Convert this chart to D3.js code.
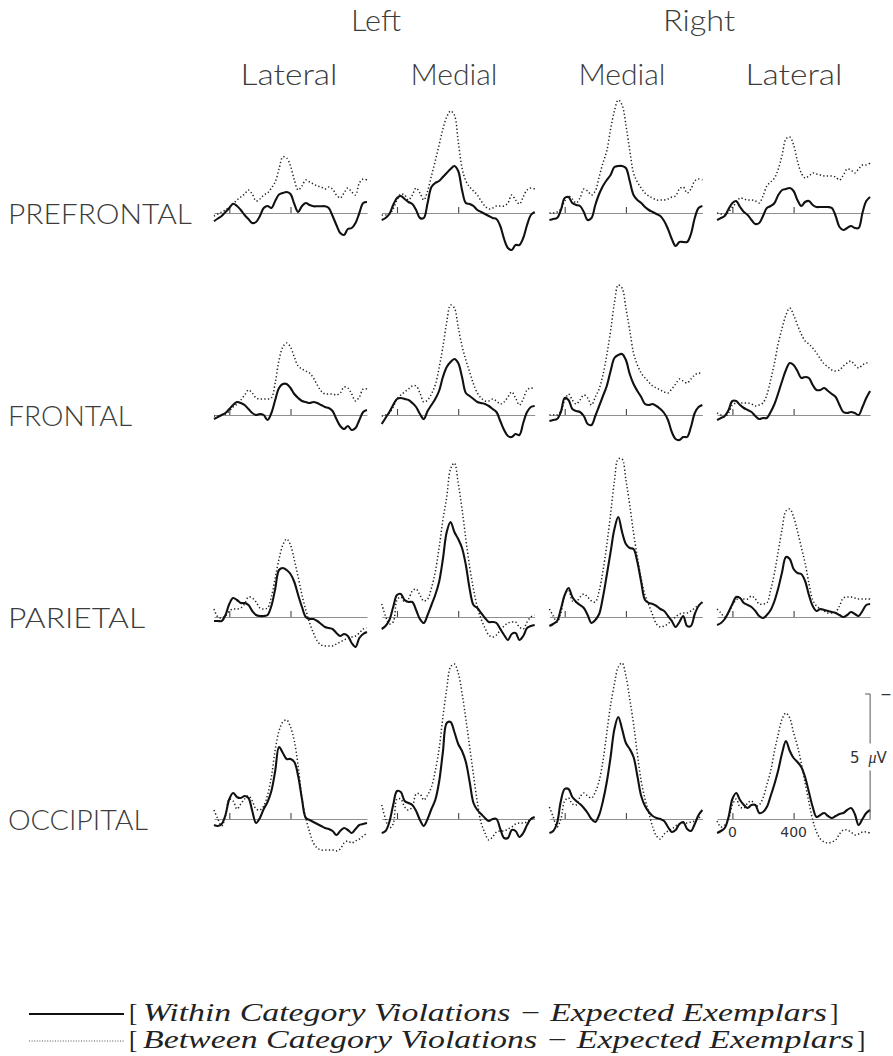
<!DOCTYPE html>
<html>
<head>
<meta charset="utf-8">
<script src="https://cdn.jsdelivr.net/npm/d3@7"></script>
<style>
  body { margin: 0; background: #fff; }
  svg { display: block; }
</style>
</head>
<body>
<svg id="chart" width="893" height="1056"></svg>
<script>
// Sample times (ms) of the difference waveforms
const times = [-100,-75,-50,-25,0,25,50,75,100,125,150,175,200,225,250,275,300,325,350,375,400,
  425,450,475,500,525,550,575,600,625,650,675,700,725,750,775,800,825,850,875,900];

const regions = ["PREFRONTAL", "FRONTAL", "PARIETAL", "OCCIPITAL"];
const hemispheres = ["Left", "Right"];
const sites = ["Lateral", "Medial", "Medial", "Lateral"];
const timeTicks = [0, 400];
const timeTickLabels = ["0", "400"];
const scaleBarMicroVolts = 5;
const legendLabels = ["Within Category Violations \u2212 Expected Exemplars",
                      "Between Category Violations \u2212 Expected Exemplars"];

// Amplitudes in µV (negative plotted upward); each array lists the four
// columns: left lateral, left medial, right medial, right lateral.
const prefrontalWithin = [
  [0.33,0.22,0.12,-0.04,-0.2,-0.37,-0.28,-0.12,0.08,0.24,0.4,0.36,0.12,-0.2,-0.28,-0.2,-0.48,-0.74,-0.8,-0.84,-0.76,-0.36,-0.04,-0.28,-0.4,-0.32,-0.27,-0.27,-0.27,-0.27,-0.2,0.12,0.48,0.8,0.88,0.64,0.6,0.4,0,-0.4,-0.44],
  [0.28,0.2,0.04,-0.32,-0.6,-0.68,-0.56,-0.44,-0.36,-0.12,0.2,0.2,-0.4,-1.04,-1.2,-1.28,-1.44,-1.6,-1.76,-1.88,-1.68,-0.92,-0.4,-0.36,-0.28,-0.12,-0.04,0.04,0.12,0.2,0.24,0.52,1.04,1.4,1.48,1.28,1.28,1,0.48,0.08,-0.04],
  [0.28,0.24,0.2,-0.12,-0.6,-0.64,-0.4,-0.32,-0.28,-0.04,0.28,0.2,-0.32,-0.76,-1.08,-1.32,-1.52,-1.84,-1.88,-1.88,-1.8,-1.28,-0.72,-0.52,-0.4,-0.24,-0.12,-0.04,0.04,0.12,0.32,0.64,1.04,1.32,1.16,1.16,1.16,0.84,0.2,-0.2,-0.28],
  [0.28,0.2,0.12,-0.16,-0.4,-0.48,-0.24,-0.04,0.08,0.28,0.44,0.4,0.12,-0.2,-0.28,-0.4,-0.72,-0.92,-0.96,-1,-0.88,-0.52,-0.28,-0.44,-0.48,-0.32,-0.24,-0.24,-0.24,-0.24,-0.2,0.12,0.56,0.68,0.6,0.52,0.6,0.6,0,-0.48,-0.64]
];
const prefrontalBetween = [
  [0.12,0.04,-0.04,-0.12,-0.24,-0.36,-0.52,-0.64,-0.76,-0.92,-0.76,-0.48,-0.56,-0.72,-0.8,-1,-1.24,-1.76,-2.24,-2.2,-1.88,-1.32,-0.92,-1.08,-1.32,-1.24,-1.16,-1.08,-1.04,-0.96,-1.04,-0.96,-0.72,-0.6,-0.8,-1,-0.84,-0.72,-1.2,-1.36,-1.32],
  [0.08,0.08,0.04,-0.16,-0.52,-0.76,-0.72,-0.52,-0.72,-1,-0.8,-0.52,-0.88,-1.48,-2.08,-2.72,-3.36,-3.84,-4.08,-3.92,-2.88,-1.8,-1.28,-1.04,-0.88,-0.72,-0.48,-0.28,-0.16,-0.2,-0.28,-0.28,-0.28,-0.4,-0.72,-0.52,-0.36,-0.64,-0.92,-1,-0.96],
  [0,0,-0.04,-0.16,-0.48,-0.68,-0.56,-0.4,-0.6,-0.96,-0.88,-0.72,-0.88,-1.44,-2,-2.48,-3.36,-4.08,-4.52,-4.32,-3.52,-2.52,-1.6,-1.24,-1,-0.8,-0.68,-0.6,-0.52,-0.52,-0.52,-0.56,-0.64,-0.68,-0.96,-1.04,-0.8,-0.96,-1.28,-1.36,-1.32],
  [0,0.04,0.08,-0.04,-0.24,-0.4,-0.6,-0.56,-0.52,-0.52,-0.48,-0.4,-0.68,-1.08,-1.24,-1.4,-1.76,-2.32,-2.96,-3.04,-2.72,-2.08,-1.6,-1.4,-1.48,-1.6,-1.56,-1.52,-1.48,-1.48,-1.48,-1.44,-1.32,-1.52,-1.76,-1.72,-1.6,-1.76,-1.92,-1.92,-2]
];
const frontalWithin = [
  [0.16,0.08,0,-0.08,-0.24,-0.4,-0.52,-0.48,-0.4,-0.24,-0.08,0,-0.04,0,0.2,-0.08,-0.6,-1.08,-1.24,-1.24,-1.08,-0.84,-0.68,-0.56,-0.52,-0.48,-0.52,-0.48,-0.4,-0.32,-0.28,-0.16,0.16,0.44,0.56,0.44,0.6,0.52,0.2,-0.12,-0.2],
  [0.36,0.12,-0.12,-0.4,-0.64,-0.68,-0.64,-0.6,-0.48,-0.32,-0.04,0.16,-0.16,-0.4,-0.64,-0.96,-1.52,-1.92,-2.12,-2.24,-2.08,-1.52,-0.88,-0.76,-0.64,-0.52,-0.48,-0.44,-0.36,-0.24,-0.12,0.24,0.6,0.84,0.88,0.76,0.8,0.32,-0.12,-0.32,-0.36],
  [0.24,0.2,0.16,-0.12,-0.68,-0.6,-0.24,-0.16,-0.12,0.04,0.36,0.4,0.04,-0.36,-0.76,-1.16,-1.76,-2.28,-2.4,-2.44,-2.2,-1.64,-1.24,-0.96,-0.72,-0.44,-0.4,-0.44,-0.36,-0.24,-0.08,0.2,0.68,0.96,1,0.88,0.88,0.48,-0.08,-0.32,-0.4],
  [0.2,0.12,0.04,-0.2,-0.56,-0.56,-0.4,-0.28,-0.2,-0.12,0.04,0.16,0.12,0.12,-0.12,-0.44,-0.88,-1.36,-1.8,-2.08,-2,-1.76,-1.48,-1.52,-1.48,-1.2,-1,-1,-1.08,-0.96,-0.84,-0.72,-0.4,-0.12,-0.08,-0.12,-0.08,0,-0.32,-0.68,-0.96]
];
const frontalBetween = [
  [0.04,0.04,0,-0.04,-0.16,-0.32,-0.44,-0.6,-0.8,-1,-0.88,-0.68,-0.64,-0.64,-0.64,-0.68,-1.28,-2.2,-2.72,-2.88,-2.72,-2.32,-1.96,-1.84,-1.76,-1.68,-1.48,-1.2,-0.96,-0.84,-0.84,-0.84,-0.8,-0.88,-1.12,-1.08,-0.84,-0.56,-0.72,-1.04,-1.04],
  [0.04,0,-0.08,-0.32,-0.64,-0.8,-0.92,-1.04,-1.16,-1.16,-0.88,-0.52,-0.6,-0.84,-1.2,-1.88,-2.72,-3.72,-4.4,-4.28,-3.52,-2.76,-2.2,-1.72,-1.24,-0.88,-0.68,-0.56,-0.56,-0.64,-0.56,-0.44,-0.52,-0.72,-0.92,-0.68,-0.4,-0.64,-1,-1.08,-1.04],
  [0,0,0,-0.16,-0.6,-0.84,-0.6,-0.44,-0.6,-0.8,-0.68,-0.4,-0.72,-1.04,-1.6,-2.4,-3.36,-4.48,-5.2,-5.08,-4.28,-3.4,-2.48,-2,-1.68,-1.48,-1.32,-1.16,-1.08,-1,-0.92,-0.88,-1.04,-1.24,-1.44,-1.36,-1.28,-1.44,-1.6,-1.68,-1.64],
  [-0.08,0,0.08,-0.08,-0.4,-0.48,-0.48,-0.48,-0.48,-0.44,-0.36,-0.4,-0.48,-0.8,-1.4,-2.08,-2.88,-3.48,-4,-4.28,-4,-3.6,-3.24,-2.96,-2.84,-2.68,-2.48,-2.24,-2.04,-1.92,-1.8,-1.76,-1.8,-1.96,-2.08,-2.16,-2,-1.88,-2,-2.08,-2.04]
];
const parietalWithin = [
  [0.16,0.16,0.16,-0.08,-0.52,-0.76,-0.68,-0.56,-0.56,-0.48,-0.24,-0.08,-0.04,-0.04,-0.08,-0.44,-1.12,-1.88,-1.96,-1.88,-1.72,-1.4,-0.88,-0.4,0,0.08,0.08,0.16,0.28,0.4,0.44,0.48,0.64,0.76,0.68,0.76,1.04,1.2,0.84,0.68,0.6],
  [0.48,0.36,0.12,-0.4,-0.88,-0.92,-0.68,-0.6,-0.6,-0.28,0.08,0.24,-0.08,-0.48,-0.88,-1.4,-2.32,-3.4,-3.8,-3.4,-3.12,-2.76,-2.08,-1.12,-0.48,-0.36,-0.16,0.04,0.2,0.2,0.24,0.48,0.72,0.92,0.68,0.64,0.92,0.76,0.44,0.36,0.32],
  [0.36,0.28,0.16,-0.32,-0.88,-1.16,-0.8,-0.6,-0.48,-0.36,-0.08,0.24,0.12,-0.12,-0.8,-1.68,-2.6,-3.52,-4,-3.4,-2.92,-2.76,-2.72,-2.2,-1.4,-0.68,-0.56,-0.52,-0.44,-0.32,-0.24,-0.04,0.16,0.4,0.2,-0.04,0.36,0.36,-0.12,-0.44,-0.6],
  [0.32,0.24,0.08,-0.2,-0.52,-0.8,-0.76,-0.56,-0.48,-0.4,-0.24,-0.04,0.04,-0.08,-0.28,-0.64,-1.16,-1.8,-2.4,-2.32,-1.92,-1.76,-1.72,-1.44,-0.88,-0.44,-0.24,-0.32,-0.28,-0.24,-0.2,-0.16,-0.08,0,-0.08,-0.2,-0.12,-0.04,-0.24,-0.48,-0.52]
];
const parietalBetween = [
  [-0.32,0,0.04,-0.04,-0.24,-0.32,-0.32,-0.36,-0.52,-0.8,-0.76,-0.6,-0.36,-0.32,-0.36,-0.8,-1.56,-2.32,-2.88,-3.12,-2.88,-2.28,-1.6,-0.88,-0.28,0.24,0.64,0.96,1.12,1.16,1.16,1.16,1.08,1,0.92,0.84,0.8,0.76,0.64,0.48,0.44],
  [-0.52,-0.04,0.28,0.2,-0.68,-0.8,-0.6,-0.72,-1.04,-1.12,-0.88,-0.64,-0.72,-1.16,-1.8,-2.76,-3.88,-4.8,-5.92,-6.16,-5.36,-4.32,-3.12,-2,-1.12,-0.4,0.08,0.44,0.72,0.8,0.72,0.52,0.36,0.24,0.2,0.2,0.4,0.48,0.2,0,-0.08],
  [-0.32,-0.04,0.2,-0.16,-0.88,-1.08,-0.64,-0.6,-0.8,-0.92,-0.8,-0.64,-0.6,-1.04,-1.84,-2.88,-4.12,-5.44,-6.32,-6.32,-5.48,-4.48,-3.36,-2.4,-1.52,-0.88,-0.48,-0.08,0.28,0.4,0.36,0.28,0.12,0,-0.12,-0.16,-0.16,-0.24,-0.36,-0.48,-0.56],
  [-0.32,-0.16,0,-0.16,-0.48,-0.68,-0.76,-0.72,-0.72,-0.84,-0.72,-0.52,-0.52,-0.56,-1.08,-1.76,-2.64,-3.52,-4.24,-4.32,-4,-3.44,-2.8,-2.16,-1.36,-0.68,-0.44,-0.32,-0.24,-0.16,-0.16,-0.2,-0.44,-0.76,-0.8,-0.8,-0.76,-0.72,-0.72,-0.72,-0.72]
];
const occipitalWithin = [
  [0.24,0.28,0.2,-0.16,-0.8,-1.04,-0.88,-0.84,-0.92,-0.84,-0.32,0.16,-0.04,-0.4,-0.68,-1.12,-1.92,-2.88,-2.64,-2.4,-2.4,-2.28,-1.72,-0.8,-0.04,0.04,0.12,0.2,0.28,0.36,0.4,0.48,0.64,0.48,0.36,0.44,0.56,0.4,0.24,0.2,0.16],
  [0.56,0.48,0.12,-0.56,-1.12,-1.08,-0.72,-0.64,-0.56,-0.32,0.04,0.28,0,-0.4,-0.76,-1.48,-2.68,-3.84,-3.88,-3.48,-3,-2.72,-2.28,-1.48,-0.64,-0.36,-0.2,-0.04,0.08,0,0,0.4,0.76,0.76,0.44,0.48,0.72,0.56,0.24,0,-0.08],
  [0.56,0.48,0.16,-0.72,-1.2,-1.2,-0.88,-0.72,-0.6,-0.44,-0.24,0,0.12,-0.16,-0.72,-1.48,-2.48,-3.6,-4.08,-3.6,-3.04,-2.8,-2.48,-1.72,-0.92,-0.52,-0.28,-0.12,-0.04,0,0.08,0.32,0.52,0.44,0.2,0.12,0.4,0.48,0.2,-0.16,-0.36],
  [0.56,0.48,0.36,-0.08,-0.8,-1.04,-0.76,-0.56,-0.44,-0.56,-0.56,-0.24,-0.28,-0.48,-0.92,-1.4,-1.96,-2.64,-3.12,-2.72,-2.44,-2.28,-2.08,-1.68,-1.08,-0.48,-0.08,-0.16,-0.24,-0.12,-0.04,-0.12,-0.2,-0.24,-0.36,-0.44,-0.2,0.24,0,-0.24,-0.36]
];
const occipitalBetween = [
  [-0.36,0,0.28,-0.12,-0.8,-0.72,-0.4,-0.6,-0.8,-0.92,-0.72,-0.4,-0.36,-0.52,-0.96,-1.68,-2.76,-3.52,-3.88,-3.96,-3.68,-3.12,-2.12,-0.8,-0.04,0.52,0.96,1.16,1.24,1.24,1.24,1.24,1.28,1.2,0.96,0.88,0.96,0.88,0.8,0.68,0.56],
  [-0.56,0,0.36,0.2,-0.8,-0.8,-0.48,-0.36,-0.48,-1,-1,-0.76,-0.96,-1.28,-1.92,-2.8,-4.08,-5.2,-6.08,-6.2,-5.84,-5.04,-4,-2.88,-1.76,-0.68,0.16,0.56,0.84,0.72,0.52,0.48,0.48,0.4,0.32,0.2,0.16,0.16,0.12,0,-0.04],
  [-0.48,-0.08,0.32,0,-0.72,-0.84,-0.6,-0.56,-0.88,-1.04,-0.92,-0.84,-1.08,-1.52,-2.32,-3.44,-4.56,-5.4,-6.08,-6.24,-5.72,-4.8,-3.8,-2.6,-1.52,-0.8,-0.24,0.32,0.68,0.8,0.6,0.48,0.4,0.28,0.2,0.16,0.16,0.12,0.08,-0.04,-0.12],
  [0.08,0.32,0.24,0,-0.56,-0.8,-0.48,-0.44,-0.64,-0.72,-0.52,-0.56,-0.84,-1.36,-1.92,-2.72,-3.4,-4,-4.24,-4.04,-3.44,-2.92,-2.24,-1.44,-0.68,0.04,0.52,0.8,0.92,0.96,0.92,0.84,0.6,0.44,0.44,0.52,0.64,0.6,0.52,0.52,0.56]
];

const withinByRegion = [prefrontalWithin, frontalWithin, parietalWithin, occipitalWithin];
const betweenByRegion = [prefrontalBetween, frontalBetween, parietalBetween, occipitalBetween];

// ---- layout ----
const svg = d3.select("#chart");
const firstPanelLeft = 214, columnStep = 167.7, panelWidth = 153;
const firstBaseline = 213, rowStep = 202, pxPerMicroVolt = 25;
const labelFont = "Lato, 'Open Sans', 'DejaVu Sans', sans-serif";
const textColor = "#3c3c3c";

const xScaleFor = col => d3.scaleLinear()
  .domain([times[0], times[times.length - 1]])
  .range([firstPanelLeft + col * columnStep, firstPanelLeft + col * columnStep + panelWidth]);
// negative voltage is drawn upward
const yScaleFor = row => {
  const base = firstBaseline + row * rowStep;
  return d3.scaleLinear().domain([-scaleBarMicroVolts, 0])
    .range([base - scaleBarMicroVolts * pxPerMicroVolt, base]);
};

// column headings
const hemiCenters = [376, 699], hemiWidths = [50, 72];
svg.selectAll("text.hemi").data(hemispheres).join("text")
  .attr("class", "hemi")
  .attr("x", (d, i) => hemiCenters[i] - hemiWidths[i] / 2)
  .attr("y", 31)
  .attr("font-family", labelFont).attr("font-weight", 300)
  .attr("font-size", 29).attr("fill", textColor)
  .attr("textLength", (d, i) => hemiWidths[i])
  .attr("lengthAdjust", "spacingAndGlyphs")
  .text(d => d);
const siteCenters = [289, 454, 622, 794], siteWidths = [97, 87, 87, 97];
svg.selectAll("text.site").data(sites).join("text")
  .attr("class", "site")
  .attr("x", (d, i) => siteCenters[i] - siteWidths[i] / 2)
  .attr("y", 85)
  .attr("font-family", labelFont).attr("font-weight", 300)
  .attr("font-size", 29).attr("fill", textColor)
  .attr("textLength", (d, i) => siteWidths[i])
  .attr("lengthAdjust", "spacingAndGlyphs")
  .text(d => d);

// row labels
const rowLabelWidths = [184, 124, 137, 140];
svg.selectAll("text.region").data(regions).join("text")
  .attr("class", "region")
  .attr("x", 8)
  .attr("y", (d, i) => yScaleFor(i)(0) + 11)
  .attr("font-family", labelFont).attr("font-weight", 300)
  .attr("font-size", 28).attr("fill", textColor)
  .attr("textLength", (d, i) => rowLabelWidths[i])
  .attr("lengthAdjust", "spacingAndGlyphs")
  .text(d => d);

// panels
for (let r = 0; r < regions.length; r++) {
  const y = yScaleFor(r);
  for (let c = 0; c < sites.length; c++) {
    const x = xScaleFor(c);
    const g = svg.append("g");

    const axis = g.append("g")
      .attr("transform", `translate(0,${y(0)})`)
      .call(d3.axisTop(x).tickValues(timeTicks).tickSize(6).tickSizeOuter(0).tickFormat(""));
    axis.select(".domain").attr("stroke", "#8f8f8f").attr("stroke-width", 1);
    axis.selectAll(".tick line").attr("stroke", "#444").attr("stroke-width", 1.1);

    const line = d3.line()
      .x((d, i) => x(times[i]))
      .y(d => y(d))
      .curve(d3.curveCatmullRom.alpha(0.5));

    g.append("path")
      .datum(betweenByRegion[r][c])
      .attr("d", line)
      .attr("fill", "none")
      .attr("stroke", "#222")
      .attr("stroke-width", 1.5)
      .attr("stroke-dasharray", "1.3 2.3");

    g.append("path")
      .datum(withinByRegion[r][c])
      .attr("d", line)
      .attr("fill", "none")
      .attr("stroke", "#111")
      .attr("stroke-width", 2.1)
      .attr("stroke-linejoin", "round");

    if (r === regions.length - 1 && c === sites.length - 1) {
      g.selectAll("text.tick-label").data(timeTicks).join("text")
        .attr("class", "tick-label")
        .attr("x", d => x(d))
        .attr("y", y(0) + 18)
        .attr("text-anchor", "middle")
        .attr("font-family", "'DejaVu Sans', sans-serif")
        .attr("font-size", 14).attr("fill", "#333")
        .text((d, i) => timeTickLabels[i]);

      // voltage calibration bar
      const xb = x(times[times.length - 1]);
      const top = y(-scaleBarMicroVolts), bottom = y(0);
      const mid = (top + bottom) / 2;
      g.append("path")
        .attr("d", `M${xb - 5},${top}H${xb}V${mid - 13}M${xb},${mid + 14}V${bottom}`)
        .attr("fill", "none").attr("stroke", "#555").attr("stroke-width", 1);
      g.append("text")
        .attr("x", xb + 16).attr("y", top + 5)
        .attr("text-anchor", "middle")
        .attr("font-family", "'DejaVu Sans', sans-serif")
        .attr("font-size", 14).attr("fill", "#333")
        .text("\u2212");
      const lab = g.append("text")
        .attr("x", xb - 20).attr("y", mid + 6)
        .attr("font-family", "'DejaVu Sans', sans-serif")
        .attr("font-size", 15).attr("fill", "#333");
      lab.append("tspan").text(scaleBarMicroVolts + " ");
      lab.append("tspan").attr("dx", 4).attr("font-family", "'Liberation Serif', serif")
        .attr("font-style", "italic").attr("font-size", 16).text("\u03bc");
      lab.append("tspan").text("V");
    }
  }
}

// legend
const legendRows = [
  { y: 1014, dash: null, width: 2, color: "#111", textWidth: 684 },
  { y: 1041, dash: "1 1.6", width: 1, color: "#555", textWidth: 711 }
];
legendRows.forEach((row, i) => {
  svg.append("line")
    .attr("x1", 29).attr("x2", 124)
    .attr("y1", row.y).attr("y2", row.y)
    .attr("stroke", row.color).attr("stroke-width", row.width)
    .attr("stroke-dasharray", row.dash);
  const t = svg.append("text")
    .attr("y", row.y + 7)
    .attr("font-family", "'Liberation Serif', 'DejaVu Serif', serif")
    .attr("font-size", 25).attr("fill", "#222");
  t.append("tspan").attr("x", 129).text("[");
  t.append("tspan").attr("x", 143).attr("font-style", "italic")
    .attr("textLength", row.textWidth).attr("lengthAdjust", "spacingAndGlyphs")
    .text(legendLabels[i]);
  t.append("tspan").attr("x", 143 + row.textWidth + 3).text("]");
});
</script>
</body>
</html>
